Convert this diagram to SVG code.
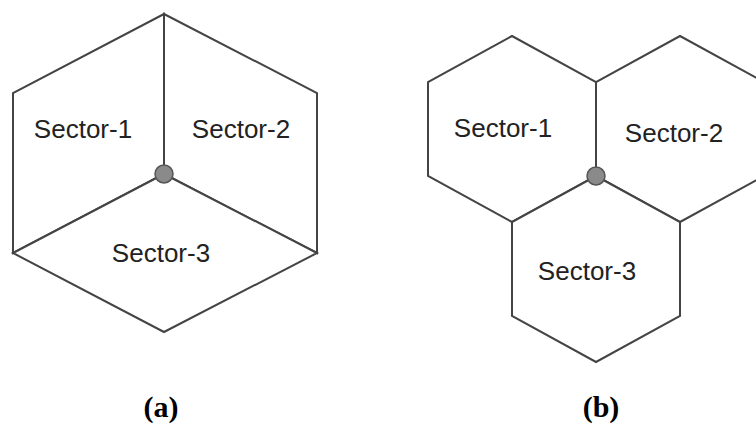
<svg xmlns="http://www.w3.org/2000/svg" width="756" height="424" viewBox="0 0 756 424">
<style>
.hex{fill:#fff;stroke:#444;stroke-width:2}
.lbl{font-family:"Liberation Sans",Arial,sans-serif;font-size:26px;fill:#222;text-anchor:middle}
.cap{font-family:"Liberation Serif","Times New Roman",serif;font-size:30px;font-weight:bold;fill:#000;text-anchor:middle}
.hub{fill:#8a8a8a;stroke:#555;stroke-width:1.5}
</style>
<rect width="756" height="424" fill="#fff"/>
<g id="diagram-a">
  <g id="a-sector-1">
    <polygon class="hex" points="164,14 13,93 13,253 164,174"/>
    <text class="lbl" x="83" y="138">Sector-1</text>
  </g>
  <g id="a-sector-2">
    <polygon class="hex" points="164,14 317,93 317,253 164,174"/>
    <text class="lbl" x="241" y="138">Sector-2</text>
  </g>
  <g id="a-sector-3">
    <polygon class="hex" points="164,174 317,253 164,332 13,253"/>
    <text class="lbl" x="161" y="262">Sector-3</text>
  </g>
  <g id="a-hub">
    <circle class="hub" cx="164" cy="174" r="9"/>
  </g>
  <g id="a-caption">
    <text class="cap" x="161" y="417">(a)</text>
  </g>
</g>
<g id="diagram-b">
  <g id="b-sector-1">
    <polygon class="hex" points="512,36 596,82 596,176 512,222 428,176 428,82"/>
    <text class="lbl" x="503" y="137">Sector-1</text>
  </g>
  <g id="b-sector-2">
    <polygon class="hex" points="680,36 764,82 764,176 680,222 596,176 596,82"/>
    <text class="lbl" x="674" y="142">Sector-2</text>
  </g>
  <g id="b-sector-3">
    <polygon class="hex" points="596,176 680,222 680,316 596,362 512,316 512,222"/>
    <text class="lbl" x="587" y="280">Sector-3</text>
  </g>
  <g id="b-hub">
    <circle class="hub" cx="596" cy="176" r="9"/>
  </g>
  <g id="b-caption">
    <text class="cap" x="601" y="417">(b)</text>
  </g>
</g>
</svg>
